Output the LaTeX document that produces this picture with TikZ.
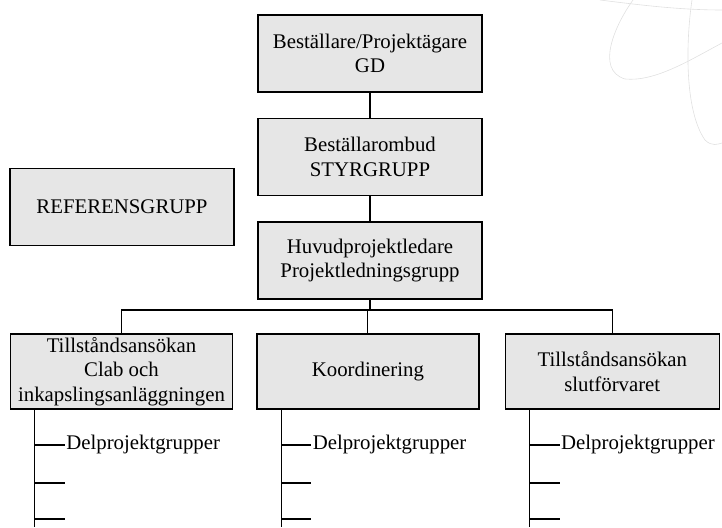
\documentclass[tikz,border=0pt]{standalone}
\usepackage{fontspec}
\setmainfont{Liberation Serif}
\usepackage{tikz}
\usetikzlibrary{positioning}
\definecolor{boxgray}{RGB}{230,230,230}
\definecolor{swirlgray}{RGB}{224,224,224}
\tikzset{
	orgbox/.style={draw, line width=1.4pt, fill=boxgray, align=center, inner sep=0pt,
		minimum width=224pt, minimum height=77pt},
	subbox/.style={orgbox, minimum width=222pt, minimum height=75pt},
	link/.style={line width=1.1pt},
	dpnode/.style={anchor=west, inner sep=1pt}
}
\begin{document}
\begin{tikzpicture}[x=1pt, y=-1pt, font=\fontsize{20.8}{24.5}\selectfont]
		\useasboundingbox (0,0) rectangle (722,527);
		\draw[swirlgray, line width=0.6pt] (600,0) .. controls (640,5) and (680,10) .. (722,10);
		\draw[swirlgray, line width=0.6pt] (633,0) .. controls (615,25) and (595,70) .. (625,79) .. controls (655,82) and (690,60) .. (722,43);
		\draw[swirlgray, line width=0.6pt] (692,0) .. controls (686,40) and (684,110) .. (705,140) .. controls (712,147) and (718,144) .. (722,143);
		
		\node[orgbox] (gd) at (370,53.5) {Beställare/Projektägare\\GD};
		\node[orgbox, below=25pt of gd] (styr) {Beställarombud\\STYRGRUPP};
		\node[orgbox, below=25pt of styr] (huvud) {Huvudprojektledare\\Projektledningsgrupp};
		\node[orgbox] (ref) at (122,207) {REFERENSGRUPP};
		
		\node[subbox] (clab) at (121.5,371.5) {Tillståndsansökan\\Clab och\\inkapslingsanläggningen};
		\node[subbox, right=23pt of clab] (koord) {Koordinering};
		\node[subbox, right=25pt of koord, minimum width=214pt] (slut) {Tillståndsansökan\\slutförvaret};
		
		\coordinate (bus) at (370,310);
		\draw[link] (gd) -- (styr);
		\draw[link] (styr) -- (huvud);
		\draw[link] (huvud) -- (bus);
		\draw[link] (clab) |- (bus) -| (slut);
		\draw[link] (koord) -- (koord |- bus);
		
		\foreach \b in {clab,koord,slut}{
			\coordinate (\b-top) at ([xshift=25pt]\b.south west);
			\draw[link] (\b-top) -- (\b-top |- 0,527);
			\draw[link] (\b-top |- 0,445) -- ++(30,0) node[dpnode] (\b-dp) {Delprojektgrupper};
			\draw[link] (\b-top |- 0,483) -- ++(30,0);
			\draw[link] (\b-top |- 0,519) -- ++(30,0);
		}
	\end{tikzpicture}
\end{document}
